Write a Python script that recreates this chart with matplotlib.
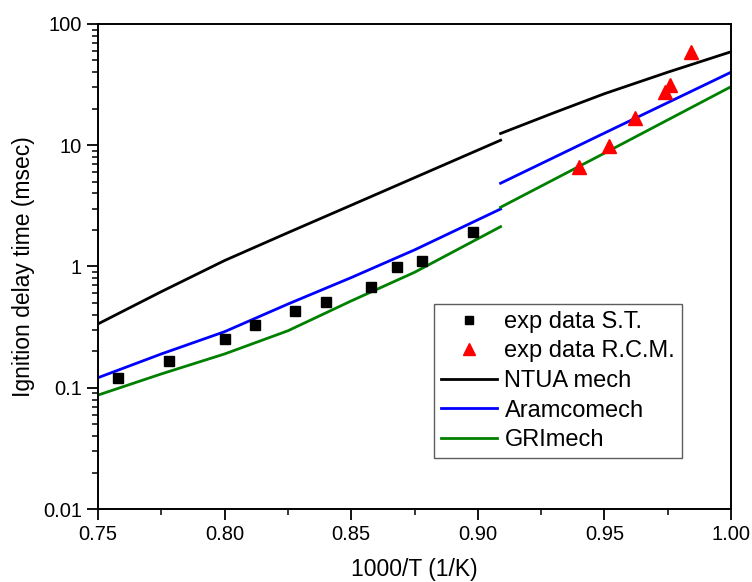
import matplotlib
matplotlib.use("Agg")
import matplotlib.pyplot as plt
from matplotlib.ticker import LogLocator, FixedLocator, MultipleLocator, FuncFormatter, NullFormatter

plt.rcParams['font.family'] = ['Liberation Sans', 'DejaVu Sans']

# Experimental data (shock tube)
st_x = [0.758, 0.778, 0.800, 0.812, 0.828, 0.840, 0.858, 0.868, 0.878, 0.898]
st_y = [0.121, 0.166, 0.251, 0.330, 0.432, 0.513, 0.681, 0.984, 1.12, 1.94]

# Experimental data (rapid compression machine)
rcm_x = [0.940, 0.952, 0.962, 0.974, 0.976, 0.984]
rcm_y = [6.65, 9.9, 16.7, 27.7, 31.4, 59.1]

# Model curves, high-T branch (x <= 0.909) and low-T branch (x >= 0.909)
hi_x = [0.75, 0.775, 0.80, 0.825, 0.85, 0.875, 0.909]
ntua_hi = [0.336, 0.62, 1.12, 1.9, 3.2, 5.4, 11.0]
aramco_hi = [0.121, 0.19, 0.29, 0.49, 0.81, 1.37, 2.98]
gri_hi = [0.087, 0.13, 0.19, 0.295, 0.52, 0.895, 2.13]

lo_x_ntua = [0.909, 0.93, 0.95, 0.975, 1.00]
ntua_lo = [12.5, 18.5, 26.6, 40.0, 59.0]
lo_x = [0.909, 0.95, 1.00]
aramco_lo = [4.86, 12.6, 40.0]
gri_lo = [3.08, 8.6, 30.4]

fig = plt.figure(figsize=(7.52, 5.82), dpi=100)
ax = fig.add_axes([0.1303, 0.1254, 0.8418, 0.8334])

lw = 2.0
ax.plot(hi_x, ntua_hi, color='black', lw=lw, label='NTUA mech')
ax.plot(lo_x_ntua, ntua_lo, color='black', lw=lw)
ax.plot(hi_x, aramco_hi, color='#0000ff', lw=lw, label='Aramcomech')
ax.plot(lo_x, aramco_lo, color='#0000ff', lw=lw)
ax.plot(hi_x, gri_hi, color='#008000', lw=lw, label='GRImech')
ax.plot(lo_x, gri_lo, color='#008000', lw=lw)

ax.plot(st_x, st_y, linestyle='none', marker='s', color='black', markersize=7, label='exp data S.T.')
ax.plot(rcm_x, rcm_y, linestyle='none', marker='^', color='#ff0000', markersize=10, label='exp data R.C.M.')

ax.set_yscale('log')
ax.set_xlim(0.75, 1.00)
ax.set_ylim(0.01, 100)

ax.xaxis.set_major_locator(FixedLocator([0.75, 0.80, 0.85, 0.90, 0.95, 1.00]))
ax.xaxis.set_minor_locator(MultipleLocator(0.025))
ax.xaxis.set_major_formatter(FuncFormatter(lambda v, p: f"{v:.2f}"))
ax.yaxis.set_major_locator(FixedLocator([0.01, 0.1, 1, 10, 100]))
ax.yaxis.set_minor_locator(LogLocator(base=10, subs=range(2, 10)))
ax.yaxis.set_minor_formatter(NullFormatter())
ax.yaxis.set_major_formatter(FuncFormatter(lambda v, p: f"{v:g}"))

ax.tick_params(which='major', direction='out', length=8, width=1.3, labelsize=14.5, top=False, right=False)
ax.tick_params(which='minor', direction='out', length=4, width=1.1, top=False, right=False)
for s in ax.spines.values():
    s.set_linewidth(1.4)

ax.set_xlabel('1000/T (1/K)', fontsize=16.5, labelpad=10)
ax.set_ylabel('Ignition delay time (msec)', fontsize=16.5, labelpad=6)

h, l = ax.get_legend_handles_labels()
order = [3, 4, 0, 1, 2]
leg = ax.legend([h[i] for i in order], [l[i] for i in order],
                loc='upper left', bbox_to_anchor=(0.531, 0.422), borderaxespad=0,
                fontsize=17, frameon=True, fancybox=False, handlelength=2.4,
                handletextpad=0.3, labelspacing=0.32, borderpad=0.28, markerscale=0.8)
leg.get_frame().set_edgecolor('#333333')
leg.get_frame().set_linewidth(1.0)

fig.savefig('out.png', dpi=100)
